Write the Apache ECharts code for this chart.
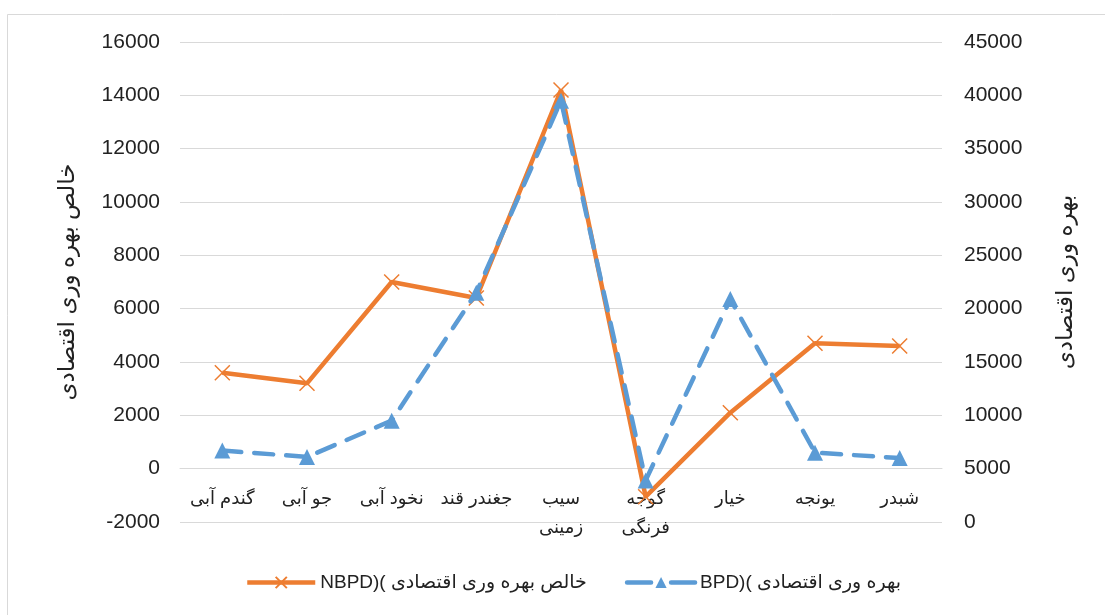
<!DOCTYPE html>
<html>
<head>
<meta charset="utf-8">
<script src="https://cdn.jsdelivr.net/npm/echarts@6/dist/echarts.min.js"></script>
<style>
html,body{margin:0;padding:0;background:#fff;}
#c{width:1105px;height:615px;}
</style>
</head>
<body>
<div id="c"></div>
<script>
const categories = ['گندم آبی', 'جو آبی', 'نخود آبی', 'جغندر قند', 'سیب\nزمینی', 'گوجه\nفرنگی', 'خیار', 'یونجه', 'شبدر'];
const nbpd = [3600, 3200, 7000, 6400, 14200, -1050, 2100, 4700, 4600];
const bpd = [6700, 6100, 9500, 21500, 39500, 3900, 20900, 6500, 6000];
const leftTicks = {min: -2000, max: 16000, interval: 2000};
const rightTicks = {min: 0, max: 45000, interval: 5000};
const nameNBPD = 'NBPD)( خالص بهره وری اقتصادی';
const nameBPD = 'BPD)( بهره وری اقتصادی';
const leftTitle = 'خالص بهره وری اقتصادی';
const rightTitle = 'بهره وری اقتصادی';

const FONT = 'Liberation Sans, DejaVu Sans, sans-serif';
const GRID = {left: 180, right: 163, top: 42, bottom: 93};
const plotH = 615 - GRID.top - GRID.bottom;
// distance from plot bottom (left-axis min) up to the left-axis zero line
const zeroOffset = -plotH * (0 - leftTicks.min) / (leftTicks.max - leftTicks.min);

const chart = echarts.init(document.getElementById('c'), null, {renderer: 'canvas'});
chart.setOption({
  backgroundColor: '#fff',
  animation: false,
  textStyle: {fontFamily: FONT},
  graphic: [{
    type: 'rect', left: 5, top: 12, z: -1,
    shape: {width: 1110, height: 610},
    style: {fill: 'none', stroke: '#D9D9D9', lineWidth: 1}
  }],
  grid: Object.assign({containLabel: false}, GRID),
  legend: {
    left: 240, top: 568,
    itemWidth: 68, itemHeight: 14, itemGap: 38,
    textStyle: {fontSize: 19, color: '#222', fontFamily: FONT},
    data: [
      {name: nameNBPD, lineStyle: {width: 4.5}},
      {name: nameBPD, lineStyle: {width: 4.5, type: [24, 20]}}
    ]
  },
  xAxis: {
    type: 'category',
    data: categories,
    boundaryGap: true,
    position: 'bottom',
    offset: zeroOffset,
    axisLine: {onZero: false, lineStyle: {color: '#D9D9D9', width: 1}},
    axisTick: {show: false},
    axisLabel: {color: '#222', fontSize: 18, margin: 16, lineHeight: 29, interval: 0, fontFamily: FONT},
    splitLine: {show: false}
  },
  yAxis: [{
    type: 'value',
    min: leftTicks.min, max: leftTicks.max, interval: leftTicks.interval,
    position: 'left',
    name: leftTitle, nameLocation: 'middle', nameGap: 101, nameRotate: 90,
    nameTextStyle: {fontSize: 23, color: '#222', fontFamily: FONT},
    axisLine: {show: false}, axisTick: {show: false},
    axisLabel: {color: '#222', fontSize: 21, margin: 20, fontFamily: FONT, formatter: v => String(v)},
    splitLine: {lineStyle: {color: '#D9D9D9', width: 1}}
  }, {
    type: 'value',
    min: rightTicks.min, max: rightTicks.max, interval: rightTicks.interval,
    position: 'right',
    name: rightTitle, nameLocation: 'middle', nameGap: 112, nameRotate: 90,
    nameTextStyle: {fontSize: 23, color: '#222', fontFamily: FONT},
    axisLine: {show: false}, axisTick: {show: false},
    axisLabel: {color: '#222', fontSize: 21, margin: 22, fontFamily: FONT, formatter: v => String(v)},
    splitLine: {show: false}
  }],
  series: [{
    name: nameNBPD,
    type: 'line',
    yAxisIndex: 0,
    data: nbpd,
    z: 3,
    lineStyle: {color: '#ED7D31', width: 4.5},
    symbol: 'path://M0,0L10,10M10,0L0,10',
    symbolSize: 15,
    itemStyle: {color: '#ED7D31', borderColor: '#ED7D31', borderWidth: 1.5},
    showAllSymbol: true
  }, {
    name: nameBPD,
    type: 'line',
    yAxisIndex: 1,
    data: bpd,
    z: 4,
    lineStyle: {color: '#5B9BD5', width: 4.5, type: [19, 13], cap: 'round'},
    symbol: 'triangle',
    symbolSize: 16,
    itemStyle: {color: '#5B9BD5', borderWidth: 0},
    showAllSymbol: true
  }]
});
</script>
</body>
</html>
